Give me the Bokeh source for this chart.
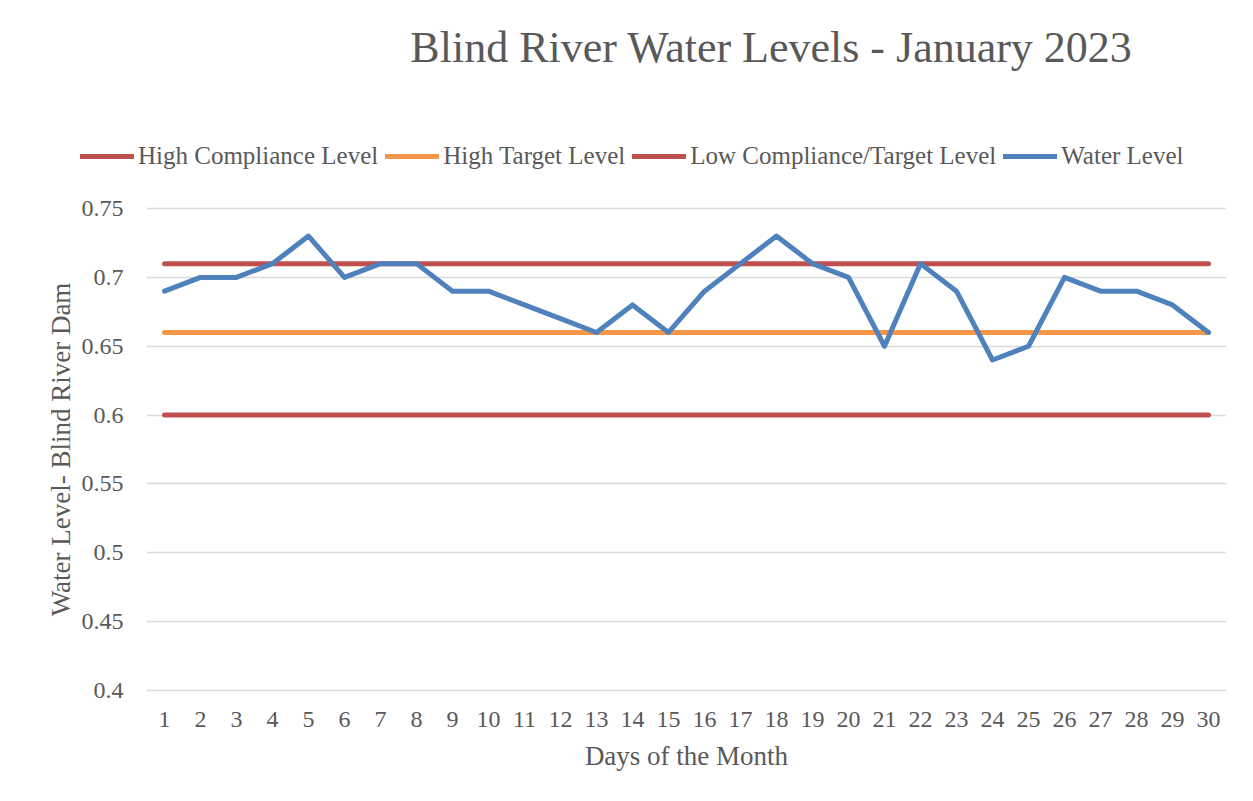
from bokeh.plotting import figure
from bokeh.layouts import column
from bokeh.models import (Range1d, FixedTicker, CustomJSTickFormatter, Legend,
                          LegendItem, Label)
from bokeh.embed import file_html
from bokeh.resources import INLINE

days = [str(d) for d in range(1, 31)]
water_level = [0.69, 0.70, 0.70, 0.71, 0.73, 0.70, 0.71, 0.71, 0.69, 0.69,
               0.68, 0.67, 0.66, 0.68, 0.66, 0.69, 0.71, 0.73, 0.71, 0.70,
               0.65, 0.71, 0.69, 0.64, 0.65, 0.70, 0.69, 0.69, 0.68, 0.66]
high_compliance_level = 0.71
high_target_level = 0.66
low_compliance_target_level = 0.60
y_ticks = [0.4, 0.45, 0.5, 0.55, 0.6, 0.65, 0.7, 0.75]
title_text = "Blind River Water Levels - January 2023"
series_names = ["High Compliance Level", "High Target Level",
                "Low Compliance/Target Level", "Water Level"]

high_compliance = [high_compliance_level] * len(days)
high_target = [high_target_level] * len(days)
low_compliance = [low_compliance_target_level] * len(days)
series = [high_compliance, high_target, low_compliance, water_level]

FONT = "Liberation Serif"
TXT = "#595959"
RED = "#c0504d"
ORANGE = "#f79646"
BLUE = "#4f81bd"
colors = [RED, ORANGE, RED, BLUE]
LW = 5

W, H_TOP, H_MAIN = 1253, 180, 621

# ---------------- header: title + legend ----------------
top = figure(width=W, height=H_TOP, x_range=Range1d(0, W), y_range=Range1d(0, H_TOP),
             output_backend="svg", toolbar_location=None, x_axis_type=None,
             y_axis_type=None, min_border=0, frame_align=False)
top.title = None
top.xgrid.grid_line_color = None
top.ygrid.grid_line_color = None
top.outline_line_color = None
top.background_fill_color = "white"
top.border_fill_color = "white"

top.add_layout(Label(x=771, y=H_TOP - 47, text=title_text, text_align="center",
                     text_baseline="alphabetic", text_font=FONT,
                     text_font_size="44px", text_color=TXT))

legend_renderers = []
for vals, c in zip(series, colors):
    r = top.line(list(range(1, len(days) + 1)), vals, line_color=c, line_width=LW,
                 line_cap="round", visible=False)
    legend_renderers.append(r)

legend = Legend(items=[LegendItem(label=n, renderers=[r])
                       for n, r in zip(series_names, legend_renderers)],
                orientation="horizontal", location=(80, 10),
                glyph_width=54, glyph_height=28, label_height=28,
                label_standoff=4, spacing=7,
                padding=0, margin=0, background_fill_alpha=0, border_line_alpha=0,
                inactive_fill_alpha=0,
                label_text_font=FONT, label_text_font_size="25px",
                label_text_color=TXT)
top.add_layout(legend, "center")

# ---------------- main chart ----------------
p = figure(width=W, height=H_MAIN, x_range=days, y_range=Range1d(0.3985, 0.7515),
           output_backend="svg", toolbar_location=None, frame_align=False,
           min_border_left=146, min_border_right=27, min_border_top=26,
           min_border_bottom=109)
p.title = None

for vals, c in zip(series, colors):
    p.line(days, vals, line_color=c, line_width=LW, line_cap="round",
           line_join="round")

p.yaxis.ticker = FixedTicker(ticks=y_ticks)
p.yaxis.formatter = CustomJSTickFormatter(code="return String(Math.round(tick*100)/100);")
for ax in (p.xaxis[0], p.yaxis[0]):
    ax.axis_line_color = None
    ax.major_tick_line_color = None
    ax.minor_tick_line_color = None
    ax.major_label_text_font = FONT
    ax.major_label_text_font_size = "24px"
    ax.major_label_text_color = TXT
    ax.axis_label_text_font = FONT
    ax.axis_label_text_font_size = "27px"
    ax.axis_label_text_font_style = "normal"
    ax.axis_label_text_color = TXT

p.yaxis.axis_label = "Water Level- Blind River Dam"
p.xaxis.axis_label = "Days of the Month"
p.yaxis.major_label_standoff = 17
p.yaxis.axis_label_standoff = 3
p.xaxis.major_label_standoff = 13
p.xaxis.axis_label_standoff = 11

p.xgrid.grid_line_color = None
p.ygrid.grid_line_color = "#d9d9d9"
p.ygrid.grid_line_width = 1.5
p.outline_line_color = None
p.background_fill_color = "white"
p.border_fill_color = "white"

layout = column(top, p, spacing=0)
open("out.html", "w").write(file_html(layout, INLINE))
